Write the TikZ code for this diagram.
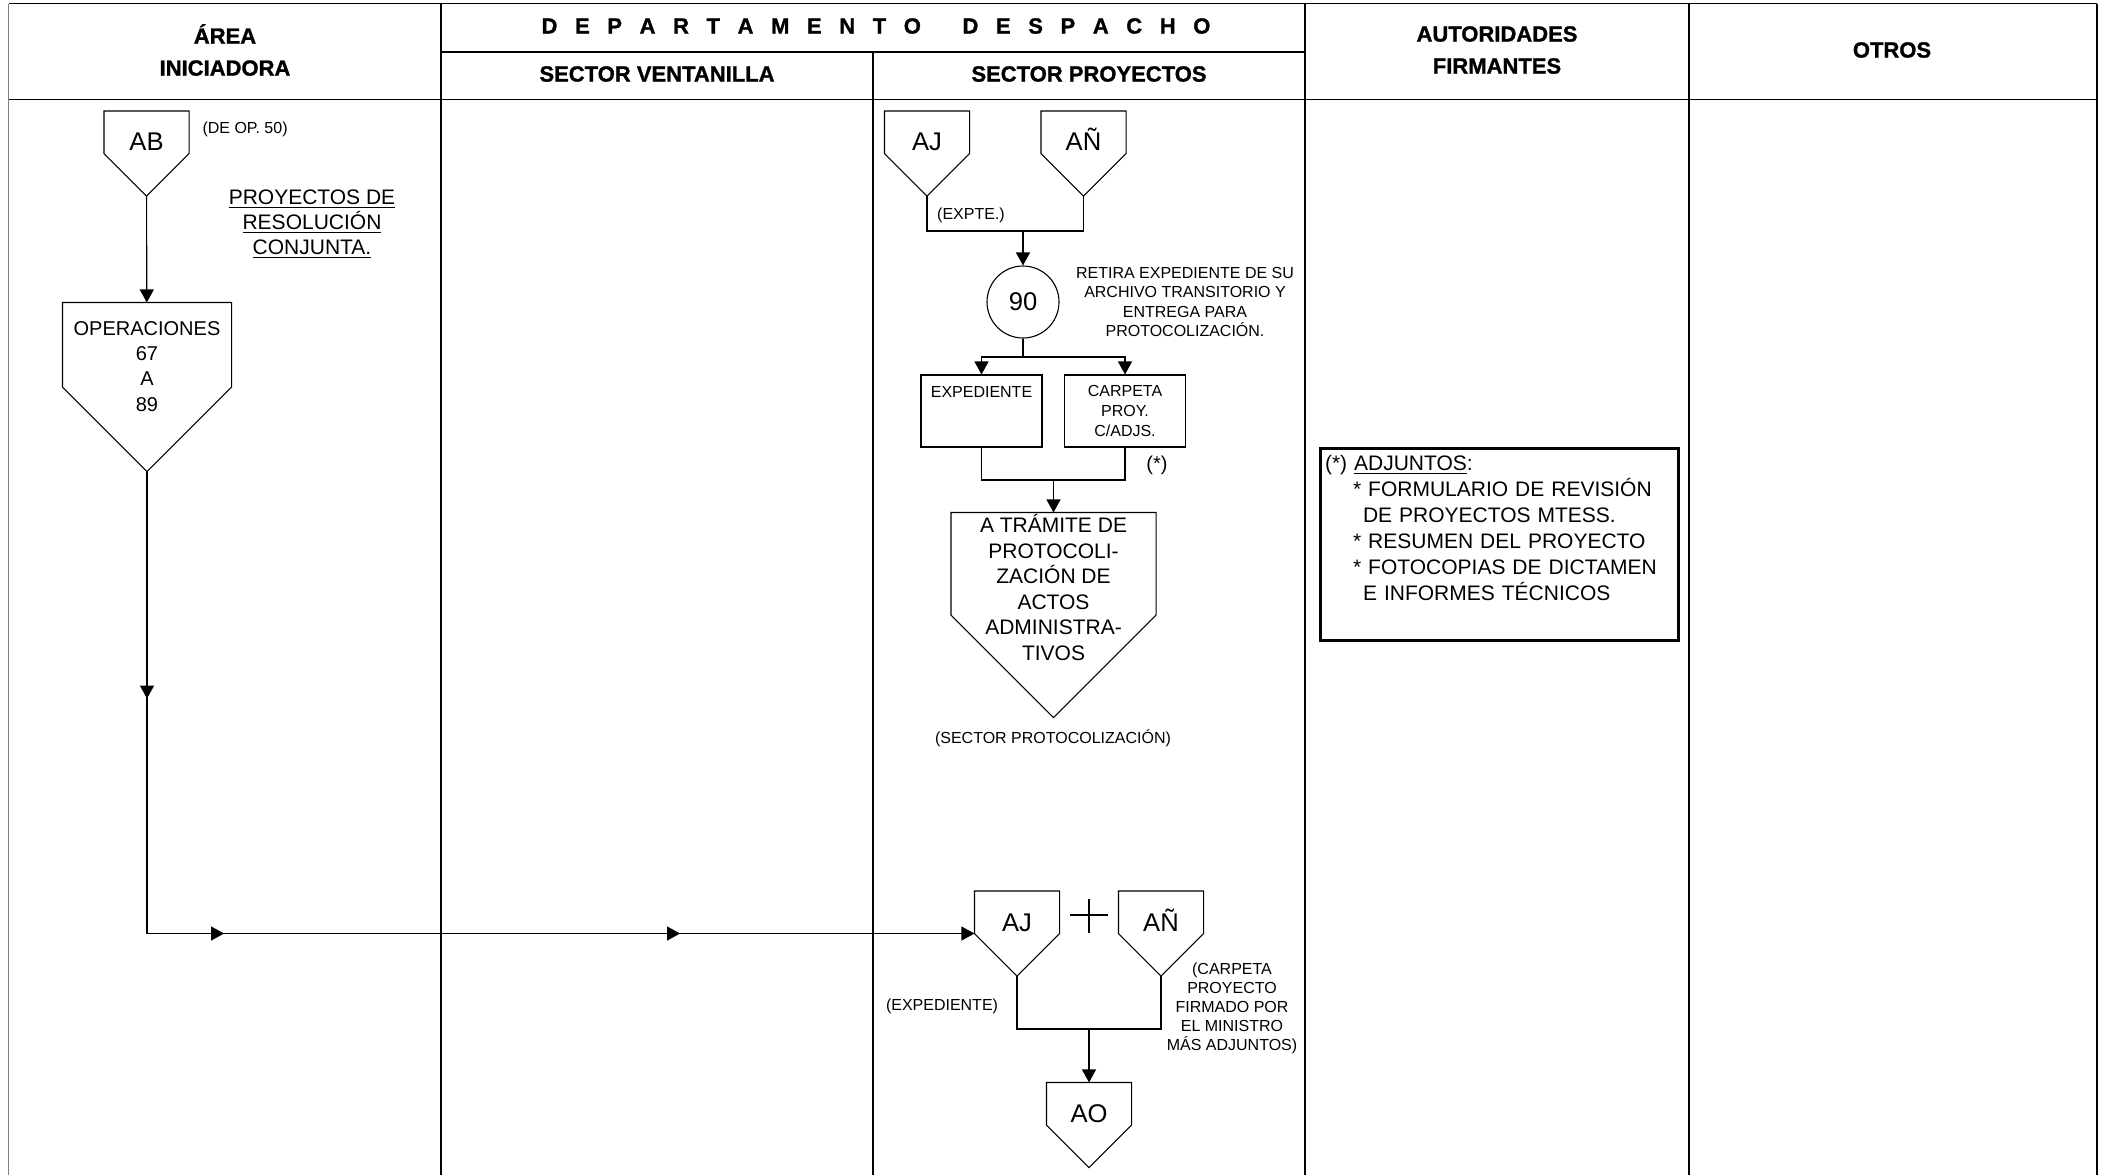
\documentclass[tikz,border=0pt]{standalone}
\usepackage{fontspec}
\setmainfont{Liberation Sans}
\newfontfamily\cabfont{Liberation Sans}[BoldFeatures={FakeBold=1.2}]
\usetikzlibrary{arrows.meta,decorations.markings}

\tikzset{
	cab/.style={font=\fontsize{11}{16}\selectfont\cabfont\bfseries, align=center, inner sep=0pt},
	chico/.style={font=\fontsize{8}{9.6}\selectfont, align=center, inner sep=0pt},
	medio/.style={font=\fontsize{10.5}{12.5}\selectfont, align=center, inner sep=0pt},
	letra/.style={font=\fontsize{12.8}{15}\selectfont, text height=9.2pt, text depth=12pt},
	pent/.style={minimum width=#1, minimum height=#1, inner sep=0pt, align=center},
	caja/.style={chico, draw, minimum width=60.5pt, minimum height=36pt},
	flecha/.style={-{Triangle[width=7pt,length=6.5pt]}},
	marca/.style={postaction={decorate, decoration={markings,
		mark=at position #1 with {\arrow{Triangle[width=7pt,length=6.5pt]}}}}},
}

\begin{document}
\begin{tikzpicture}[x=0.5pt, y=-0.5pt, line width=0.55pt]
		\path[use as bounding box] (0,0) rectangle (2109,1175);
		\draw (8.7,3.5) -- (2097,3.5) (8.7,99.5) -- (2097,99.5) (441,52) -- (1305,52);
		\foreach \x in {441,1305,1689,2097}
			\draw (\x,3.5) -- (\x,1175);
		\draw (873,52) -- (873,1175);
		\draw[gray, line width=0.7pt] (8.7,3.5) -- (8.7,1175);

		\node[cab] (area) at (225,50) {ÁREA\\INICIADORA};
		\node[cab] (depto) at (876,26) {\foreach \l in {D,E,P,A,R,T,A,M,E,N,T,O}{\l\hspace{8.8pt}}\hspace{12pt}\foreach \l in {D,E,S,P,A,C,H,O}{\l\hspace{8.8pt}}\hspace{-8.8pt}};
		\node[cab] (vent) at (657,74) {SECTOR VENTANILLA};
		\node[cab] (proy) at (1089,74) {SECTOR PROYECTOS};
		\node[cab] (aut) at (1497,50) {AUTORIDADES\\FIRMANTES};
		\node[cab] (otros) at (1892,50) {OTROS};

		\node[pent=42pt, letra] (ab) at (146.5,153.5) {AB};
		\node[chico, anchor=west] (deop) at (202,129) {(DE OP. 50)};
		\node[medio] (resol) at (312,224) {\underline{PROYECTOS DE}\\\underline{RESOLUCIÓN}\\\underline{CONJUNTA.}};
		\node[pent=84pt, font=\fontsize{10}{12.65}\selectfont, text height=45.15pt, text depth=21pt] (op) at (147,387) {OPERACIONES\\67\\A\\89};

		\node[pent=42pt, letra] (aj1) at (927,153.5) {AJ};
		\node[pent=42pt, letra] (an1) at (1083.5,153.5) {AÑ};
		\coordinate (j1) at (1023,231);
		\node[chico] (expte) at (971,215) {(EXPTE.)};
		\node[draw, circle, minimum size=36pt, inner sep=0pt, font=\fontsize{12.8}{15}\selectfont] (c90) at (1023,302) {90};
		\node[chico, font=\fontsize{8}{9.65}\selectfont] (retira) at (1185,302) {RETIRA EXPEDIENTE DE SU\\ARCHIVO TRANSITORIO Y\\ENTREGA PARA\\PROTOCOLIZACIÓN.};
		\coordinate (j2) at (1023,357);
		\node[caja, text height=5.7pt, text depth=19pt] (expd) at (981.5,411) {EXPEDIENTE};
		\node[caja, font=\fontsize{8}{10}\selectfont] (carp) at (1125,411) {CARPETA\\PROY.\\C/ADJS.};
		\node[font=\fontsize{10}{12}\selectfont, inner sep=0pt] (ast) at (1157,465) {(*)};
		\coordinate (j3) at (1053.5,480);
		\node[pent=102pt, font=\fontsize{10.5}{12.8}\selectfont, text height=71.5pt, text depth=26pt] (prot) at (1053.5,615) {A TRÁMITE DE\\PROTOCOLI-\\ZACIÓN DE\\ACTOS\\ADMINISTRA-\\TIVOS};
		\node[chico] (secprot) at (1053,738) {(SECTOR PROTOCOLIZACIÓN)};

		\node[draw, line width=1.5pt, outer sep=0pt, anchor=north west, align=left, text width=174pt, inner xsep=2.5pt, inner ysep=0pt, text height=11.25pt, text depth=84.75pt, font=\fontsize{10.5}{13}\selectfont] (adj) at (1320,448) {(*) \underline{ADJUNTOS}:\\\hspace*{14pt}* FORMULARIO DE REVISIÓN\\\hspace*{19pt}DE PROYECTOS MTESS.\\\hspace*{14pt}* RESUMEN DEL PROYECTO\\\hspace*{14pt}* FOTOCOPIAS DE DICTAMEN\\\hspace*{19pt}E INFORMES TÉCNICOS};

		\node[pent=42pt, letra, text depth=11pt] (aj2) at (1017,933.5) {AJ};
		\node[pent=42pt, letra, text depth=11pt] (an2) at (1161,933.5) {AÑ};
		\draw[line width=1pt] (1070,915) -- (1108,915) (1089,899) -- (1089,933);
		\coordinate (j4) at (1089,1029);
		\node[pent=42pt, letra] (ao) at (1089,1125) {AO};
		\node[chico] (expd2) at (942,1006) {(EXPEDIENTE)};
		\node[chico, font=\fontsize{8}{9.5}\selectfont] (carpf) at (1232,1008) {(CARPETA\\PROYECTO\\FIRMADO POR\\EL MINISTRO\\MÁS ADJUNTOS)};

		\foreach \n in {ab,op,aj1,an1,prot,aj2,an2,ao}
			\draw (\n.north west) -- (\n.north east) -- (\n.east) -- (\n.south) -- (\n.west) -- cycle;

		\draw[flecha] (ab) -- (op);
		\draw[flecha, marca=113.5pt, marca=269.5pt, marca=497.5pt] (op) |- (aj2);
		\draw (aj1) |- (j1) -| (an1);
		\draw[flecha] (j1) -- (c90);
		\draw (c90) -- (j2);
		\draw[flecha] (j2) -| (expd);
		\draw[flecha] (j2) -| (carp);
		\draw (expd) |- (j3) -| (carp);
		\draw[flecha] (j3) -- (prot);
		\draw (aj2) |- (j4) -| (an2);
		\draw[flecha] (j4) -- (ao);
	\end{tikzpicture}
\end{document}
